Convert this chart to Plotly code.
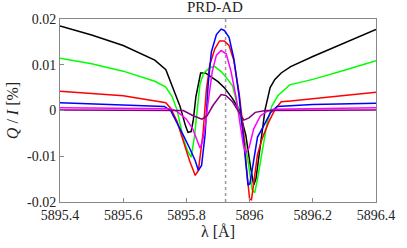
import plotly.graph_objects as go

title = "PRD-AD"
line_center = 5895.924

black_x = [5895.4, 5895.5, 5895.6, 5895.7, 5895.735, 5895.76, 5895.78, 5895.797, 5895.805, 5895.815, 5895.822, 5895.83, 5895.845, 5895.86, 5895.88, 5895.90, 5895.92, 5895.946, 5895.967, 5895.988, 5896.003, 5896.013, 5896.02, 5896.034, 5896.049, 5896.065, 5896.08, 5896.1, 5896.13, 5896.2, 5896.3, 5896.4]
black_y = [0.0185, 0.0165, 0.0142, 0.0110, 0.0089, 0.0044, 0.0009, -0.0033, -0.0048, -0.0046, -0.0020, 0.0030, 0.0082, 0.0082, 0.0073, 0.0063, 0.0050, 0.0026, 0.0002, -0.0054, -0.0124, -0.0163, -0.0150, -0.0082, 0.0002, 0.0050, 0.0068, 0.0082, 0.0096, 0.0118, 0.0148, 0.0177]

green_x = [5895.4, 5895.5, 5895.6, 5895.7, 5895.735, 5895.755, 5895.77, 5895.79, 5895.805, 5895.815, 5895.825, 5895.833, 5895.843, 5895.855, 5895.875, 5895.89, 5895.91, 5895.925, 5895.946, 5895.96, 5895.975, 5895.995, 5896.008, 5896.016, 5896.025, 5896.04, 5896.056, 5896.07, 5896.09, 5896.127, 5896.2, 5896.3, 5896.4]
green_y = [0.0114, 0.0102, 0.0086, 0.0064, 0.0051, 0.0030, 0.0002, -0.0061, -0.0090, -0.0102, -0.0060, -0.0005, 0.0058, 0.0082, 0.0094, 0.0096, 0.0085, 0.0073, 0.0054, 0.0016, -0.0026, -0.0110, -0.0173, -0.0180, -0.0150, -0.0089, -0.0026, 0.0009, 0.0033, 0.0056, 0.0068, 0.0088, 0.0109]

red_x = [5895.4, 5895.6, 5895.735, 5895.75, 5895.77, 5895.79, 5895.81, 5895.828, 5895.838, 5895.853, 5895.863, 5895.874, 5895.89, 5895.905, 5895.92, 5895.935, 5895.95, 5895.967, 5895.98, 5895.99, 5896.0, 5896.006, 5896.015, 5896.025, 5896.04, 5896.06, 5896.08, 5896.1, 5896.13, 5896.25, 5896.4]
red_y = [0.0042, 0.0032, 0.0017, 0.0005, -0.0023, -0.0068, -0.0110, -0.0142, -0.0131, -0.0047, 0.0044, 0.0100, 0.0135, 0.0152, 0.0152, 0.0142, 0.0110, 0.0037, -0.0040, -0.0124, -0.0194, -0.0195, -0.0150, -0.0096, -0.0061, -0.0026, 0.0002, 0.0019, 0.0021, 0.0030, 0.0040]

blue_x = [5895.4, 5895.6, 5895.73, 5895.75, 5895.77, 5895.79, 5895.81, 5895.828, 5895.838, 5895.848, 5895.859, 5895.869, 5895.879, 5895.895, 5895.91, 5895.92, 5895.935, 5895.95, 5895.967, 5895.977, 5895.988, 5895.995, 5896.001, 5896.012, 5896.025, 5896.045, 5896.066, 5896.087, 5896.2, 5896.4]
blue_y = [0.0017, 0.0013, 0.0009, 0.0000, -0.0026, -0.0054, -0.0082, -0.0110, -0.0131, -0.0120, -0.0054, 0.0058, 0.0128, 0.0166, 0.0178, 0.0175, 0.0160, 0.0114, 0.0030, -0.0040, -0.0117, -0.0163, -0.0160, -0.0110, -0.0058, -0.0033, -0.0005, 0.0009, 0.0013, 0.0016]

magenta_x = [5895.4, 5895.75, 5895.77, 5895.8, 5895.82, 5895.835, 5895.843, 5895.851, 5895.861, 5895.871, 5895.882, 5895.895, 5895.91, 5895.926, 5895.941, 5895.957, 5895.97, 5895.98, 5895.988, 5895.998, 5896.013, 5896.034, 5896.055, 5896.075, 5896.4]
magenta_y = [0.0006, 0.0004, -0.0002, -0.0019, -0.0040, -0.0068, -0.0082, -0.0068, -0.0026, 0.0030, 0.0086, 0.0121, 0.0131, 0.0124, 0.0086, 0.0030, -0.0026, -0.0075, -0.0093, -0.0082, -0.0040, -0.0012, -0.0002, 0.0003, 0.0006]

purple_x = [5895.4, 5895.79, 5895.82, 5895.849, 5895.865, 5895.885, 5895.91, 5895.925, 5895.946, 5895.967, 5895.982, 5895.998, 5896.018, 5896.05, 5896.4]
purple_y = [0.0001, 0.0000, -0.0011, -0.0019, -0.0012, 0.0012, 0.0035, 0.0033, 0.0019, -0.0005, -0.0021, -0.0016, -0.0004, 0.0000, 0.0001]

x_ticks = [5895.4, 5895.6, 5895.8, 5896.0, 5896.2, 5896.4]
x_tick_labels = ["5895.4", "5895.6", "5895.8", "5896", "5896.2", "5896.4"]
y_ticks = [-0.02, -0.01, 0, 0.01, 0.02]
y_tick_labels = ["-0.02", "-0.01", "0", "0.01", "0.02"]

series = [
    (black_x, black_y, "black"),
    (green_x, green_y, "#00ff00"),
    (red_x, red_y, "#ff0000"),
    (blue_x, blue_y, "#0000ff"),
    (magenta_x, magenta_y, "#ff00ff"),
    (purple_x, purple_y, "#800080"),
]

fig = go.Figure()
for xs, ys, c in series:
    fig.add_trace(go.Scatter(x=xs, y=ys, mode="lines", line=dict(color=c, width=1.5),
                             showlegend=False))

fig.add_shape(type="line", x0=line_center, x1=line_center, y0=0, y1=1, yref="paper",
              line=dict(color="#999999", width=1.5, dash="dot"), layer="below")

font = "Liberation Serif"
fig.update_layout(
    width=407, height=248,
    margin=dict(l=53, r=30, t=19, b=39),
    paper_bgcolor="white", plot_bgcolor="white",
    font=dict(family=font, size=14, color="#222222"),
    title=dict(text=title, x=0.528, xanchor="center", y=0.995, yanchor="top",
               font=dict(size=15, family=font, color="#222222")),
    xaxis=dict(range=[5895.4, 5896.4], tickvals=x_ticks, ticktext=x_tick_labels,
               ticks="inside", ticklen=4, tickcolor="#888888", showline=True,
               linecolor="#888888", linewidth=1, mirror=True, showgrid=False, zeroline=False,
               tickfont=dict(family=font, size=14),
               title=dict(text="λ [Å]", standoff=2, font=dict(size=16, family=font))),
    yaxis=dict(range=[-0.02, 0.02], tickvals=y_ticks, ticktext=y_tick_labels,
               ticks="inside", ticklen=4, tickcolor="#888888", showline=True,
               linecolor="#888888", linewidth=1, mirror=True, showgrid=False, zeroline=False,
               tickfont=dict(family=font, size=14),
               title=dict(text="<i>Q</i> / <i>I</i> [%]", standoff=4, font=dict(size=16, family=font))),
)

fig.write_html("out.html", config={"displayModeBar": False},
               post_script="document.body.style.margin='0';document.body.style.overflow='hidden';")
